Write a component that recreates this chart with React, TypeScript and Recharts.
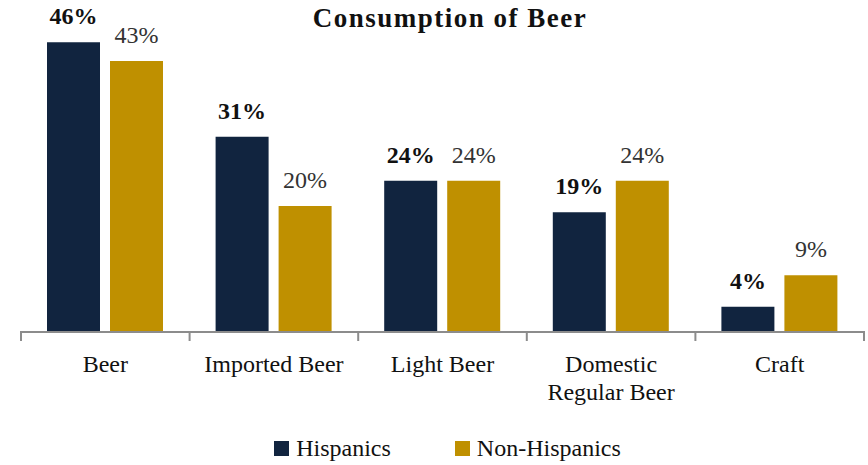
import { BarChart, Bar, XAxis, YAxis, LabelList, Legend } from 'recharts';

const categories = ['Beer', 'Imported Beer', 'Light Beer', 'Domestic\nRegular Beer', 'Craft'];
const hispanics = [46, 31, 24, 19, 4];
const nonHispanics = [43, 20, 24, 24, 9];

const NAVY = '#11243f';
const GOLD = '#bf9000';
const FONT = 'Liberation Serif, Times New Roman, serif';

const data = categories.map((name, i) => ({
  name,
  hispanics: hispanics[i],
  nonHispanics: nonHispanics[i],
}));

// category label in the middle, tick marks on the band edges
function AxisTick(props: any) {
  const { x, y, payload } = props;
  const half = payload.offset || 0;
  const lines = String(payload.value).split('\n');
  const last = payload.index === categories.length - 1;
  return (
    <g>
      <line x1={x - half} x2={x - half} y1={y - 1} y2={y + 9} stroke="#8c8c8c" strokeWidth={2} />
      {last && <line x1={x + half} x2={x + half} y1={y - 1} y2={y + 9} stroke="#8c8c8c" strokeWidth={2} />}
      <text x={x} y={y} textAnchor="middle" fill="#111" fontSize={24} fontFamily={FONT}>
        {lines.map((l, i) => (
          <tspan key={i} x={x} dy={i === 0 ? 40 : 28}>
            {l}
          </tspan>
        ))}
      </text>
    </g>
  );
}

function LegendBox() {
  const items = [
    { label: 'Hispanics', color: NAVY },
    { label: 'Non-Hispanics', color: GOLD },
  ];
  return (
    <div
      style={{
        display: 'flex',
        justifyContent: 'center',
        alignItems: 'center',
        height: 30,
        paddingLeft: 10,
        fontFamily: FONT,
        fontSize: 24,
        color: '#111',
      }}
    >
      {items.map((it, i) => (
        <div key={it.label} style={{ display: 'flex', alignItems: 'center', marginLeft: i ? 64 : 0 }}>
          <span style={{ width: 15, height: 15, background: it.color, marginRight: 7, display: 'inline-block' }} />
          <span>{it.label}</span>
        </div>
      ))}
    </div>
  );
}

export default function App() {
  return (
    <div style={{ position: 'absolute', left: 0, top: 0, width: 868, height: 465, background: '#fff' }}>
      <div
        style={{
          position: 'absolute',
          top: 5,
          left: 16,
          width: 868,
          textAlign: 'center',
          fontFamily: FONT,
          fontWeight: 'bold',
          fontSize: 27,
          lineHeight: '27px',
          letterSpacing: 1.5,
          color: '#111',
        }}
      >
        Consumption of Beer
      </div>
      <BarChart
        width={868}
        height={465}
        data={data}
        margin={{ top: 17, right: 4, left: 21, bottom: 2 }}
        barCategoryGap={26}
        barGap={10}
      >
        <XAxis
          dataKey="name"
          height={101}
          tickSize={0}
          tickMargin={0}
          tickLine={false}
          axisLine={{ stroke: '#8c8c8c', strokeWidth: 2 }}
          tick={<AxisTick />}
          interval={0}
        />
        <YAxis hide domain={[0, 50]} />
        <Legend verticalAlign="bottom" height={30} content={() => <LegendBox />} />
        <Bar dataKey="hispanics" fill={NAVY} isAnimationActive={false}>
          <LabelList
            dataKey="hispanics"
            position="top"
            offset={18}
            formatter={(v: any) => `${v}%`}
            fill="#111"
            fontSize={24}
            fontWeight="bold"
            fontFamily={FONT}
          />
        </Bar>
        <Bar dataKey="nonHispanics" fill={GOLD} isAnimationActive={false}>
          <LabelList
            dataKey="nonHispanics"
            position="top"
            offset={18}
            formatter={(v: any) => `${v}%`}
            fill="#333"
            fontSize={24}
            fontFamily={FONT}
          />
        </Bar>
      </BarChart>
    </div>
  );
}
